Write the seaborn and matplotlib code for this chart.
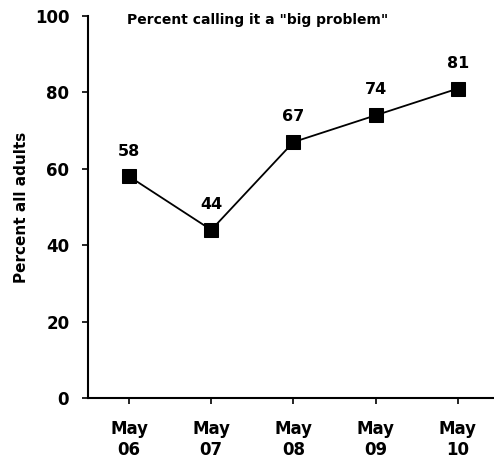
import matplotlib
matplotlib.use("Agg")
import matplotlib.pyplot as plt
import seaborn as sns
import pandas as pd

categories = ["May\n06", "May\n07", "May\n08", "May\n09", "May\n10"]
values = [58, 44, 67, 74, 81]
yticks = [0, 20, 40, 60, 80, 100]

sns.set_theme(style="white")
plt.rcParams['font.family'] = ['DejaVu Sans']
plt.rcParams['font.weight'] = 'bold'

df = pd.DataFrame({"date": categories, "pct": values})
fig = plt.figure(figsize=(4.94, 4.58), dpi=100)
ax = fig.add_axes([88/494, 60/458, 1 - 88/494, (398-16)/458])

sns.lineplot(data=df, x="date", y="pct", ax=ax, color="black", linewidth=1.3,
             marker="s", markersize=10, markeredgecolor="black", markerfacecolor="black", sort=False)

for i, v in enumerate(values):
    ax.annotate(str(v), (i, v), xytext=(0, 15), textcoords="offset points",
                ha="center", va="baseline", fontsize=11.5, fontweight="bold", color="black")

ax.set_ylim(0, 100)
ax.set_xlim(-0.5, 4.44)
ax.set_yticks(yticks)
ax.set_yticklabels([str(t) for t in yticks], fontsize=12, fontweight="bold")
ax.set_xticks(range(len(categories)))
ax.set_xticklabels(categories, fontsize=12, fontweight="bold", linespacing=1.25)
ax.set_xlabel("")
ax.set_ylabel("Percent all adults", fontsize=11, fontweight="bold", labelpad=4, color="black")

for s in ["top", "right"]:
    ax.spines[s].set_visible(False)
for s in ["left", "bottom"]:
    ax.spines[s].set_color("black")
    ax.spines[s].set_linewidth(1.5)
ax.tick_params(axis="both", direction="out", length=4.5, width=1.2, color="black",
               left=True, bottom=True, labelcolor="black")
ax.tick_params(axis="y", pad=9)
ax.tick_params(axis="x", pad=11)

fig.text(258/494, 1 - 20/458, 'Percent calling it a "big problem"', ha="center", va="center",
         fontsize=10, fontweight="bold", color="black")

fig.savefig("out.png", dpi=100)
